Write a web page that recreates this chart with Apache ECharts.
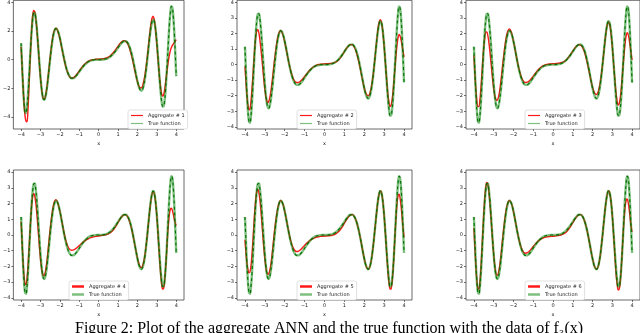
<!DOCTYPE html>
<html>
<head>
<meta charset="utf-8">
<script src="https://cdn.jsdelivr.net/npm/echarts@6/dist/echarts.min.js"></script>
<style>
  html, body { margin: 0; padding: 0; background: #fff; }
  #chart { width: 640px; height: 333px; }
</style>
</head>
<body>
<div id="chart"></div>
<script>
// sample positions on the x axis (finer near the fast oscillations)
const xs = [
  -4, -3.95, -3.9, -3.85, -3.8, -3.75, -3.7, -3.65, -3.6, -3.55,
  -3.5, -3.45, -3.4, -3.35, -3.3, -3.25, -3.2, -3.15, -3.1, -3.05,
  -3, -2.95, -2.9, -2.85, -2.8, -2.75, -2.7, -2.65, -2.6, -2.55, -2.5,
  -2.4, -2.3, -2.2, -2.1, -2, -1.9, -1.8, -1.7, -1.6, -1.5,
  -1.4, -1.3, -1.2, -1.1, -1, -0.9, -0.8, -0.7, -0.6, -0.5,
  -0.4, -0.3, -0.2, -0.1, 0, 0.1, 0.2, 0.3, 0.4, 0.5,
  0.6, 0.7, 0.8, 0.9, 1, 1.1, 1.2, 1.3, 1.4, 1.5,
  1.6, 1.7, 1.8, 1.9, 2, 2.1, 2.2, 2.3, 2.4,
  2.5, 2.55, 2.6, 2.65, 2.7, 2.75, 2.8, 2.85, 2.9, 2.95,
  3, 3.05, 3.1, 3.15, 3.2, 3.25, 3.3, 3.35, 3.4, 3.45,
  3.5, 3.55, 3.6, 3.65, 3.7, 3.75, 3.8, 3.85, 3.9, 3.95,
  4
];

const trueY = [
  1.15, -0.42, -1.86, -2.98, -3.63, -3.74, -3.34, -2.50, -1.38, -0.13,
  1.09, 2.13, 2.87, 3.26, 3.28, 2.95, 2.33, 1.50, 0.57, -0.37,
  -1.24, -1.95, -2.46, -2.75, -2.80, -2.63, -2.28, -1.79, -1.19, -0.56, 0.08,
  1.20, 1.93, 2.18, 2.00, 1.51, 0.86, 0.18, -0.42, -0.88, -1.17,
  -1.30, -1.29, -1.19, -1.03, -0.84, -0.65, -0.48, -0.33, -0.21, -0.12,
  -0.06, -0.03, -0.01, 0.00, 0, 0.00, 0.01, 0.03, 0.06, 0.12,
  0.21, 0.33, 0.48, 0.65, 0.84, 1.03, 1.19, 1.29, 1.30, 1.17,
  0.88, 0.42, -0.18, -0.86, -1.51, -2.00, -2.18, -1.93, -1.20,
  -0.08, 0.56, 1.19, 1.79, 2.28, 2.63, 2.80, 2.75, 2.46, 1.95,
  1.24, 0.37, -0.57, -1.50, -2.33, -2.95, -3.28, -3.26, -2.87, -2.13,
  -1.09, 0.13, 1.38, 2.50, 3.34, 3.74, 3.63, 2.98, 1.86, 0.42,
  -1.15
];

const agg1 = [
  0.9, -0.5, -1.9, -3.1, -3.9, -4.3, -4.35, -3.6, -2.1, -0.5,
  1.0, 2.3, 3.15, 3.45, 3.35, 2.95, 2.3, 1.45, 0.5, -0.45,
  -1.3, -2.0, -2.5, -2.75, -2.75, -2.55, -2.2, -1.7, -1.1, -0.45, 0.2,
  1.3, 2.0, 2.2, 1.95, 1.45, 0.8, 0.12, -0.47, -0.92, -1.2,
  -1.3, -1.26, -1.14, -0.97, -0.78, -0.6, -0.43, -0.29, -0.17, -0.09,
  -0.03, 0.0, 0.02, 0.03, 0.04, 0.05, 0.06, 0.08, 0.12, 0.18,
  0.28, 0.41, 0.57, 0.76, 0.95, 1.13, 1.27, 1.33, 1.28, 1.1,
  0.75, 0.25, -0.35, -0.98, -1.55, -1.92, -1.97, -1.65, -0.95,
  0.1, 0.75, 1.4, 2.0, 2.55, 2.9, 3.05, 2.9, 2.5, 1.85,
  1.05, 0.2, -0.65, -1.4, -2.0, -2.4, -2.55, -2.45, -2.1, -1.6,
  -1.05, -0.5, -0.05, 0.35, 0.65, 0.85, 1.0, 1.1, 1.2, 1.3,
  1.4
];

const agg2 = [
  -0.1, -1.1, -2.0, -2.6, -2.9, -2.85, -2.4, -1.6, -0.7, 0.3,
  1.2, 1.85, 2.2, 2.25, 2.05, 1.6, 1.05, 0.4, -0.3, -1.0,
  -1.6, -2.05, -2.35, -2.45, -2.35, -2.1, -1.75, -1.25, -0.7, -0.1, 0.45,
  1.4, 2.0, 2.2, 1.95, 1.45, 0.82, 0.18, -0.38, -0.8, -1.06,
  -1.15, -1.14, -1.05, -0.92, -0.76, -0.6, -0.44, -0.3, -0.18, -0.09,
  -0.03, 0.01, 0.03, 0.04, 0.05, 0.06, 0.07, 0.08, 0.1, 0.13,
  0.19, 0.29, 0.44, 0.63, 0.84, 1.04, 1.2, 1.29, 1.28, 1.12,
  0.8, 0.32, -0.27, -0.92, -1.5, -1.9, -2.0, -1.75, -1.1,
  -0.05, 0.6, 1.25, 1.85, 2.4, 2.75, 2.9, 2.8, 2.45, 1.9,
  1.15, 0.3, -0.55, -1.35, -2.05, -2.5, -2.7, -2.6, -2.25, -1.65,
  -0.9, -0.1, 0.65, 1.3, 1.75, 1.95, 1.85, 1.6, 1.25, 0.85,
  0.5
];

const agg3 = [
  0.6, -0.6, -1.6, -2.35, -2.7, -2.7, -2.3, -1.55, -0.65, 0.3,
  1.15, 1.75, 2.1, 2.1, 1.9, 1.5, 0.95, 0.3, -0.35, -1.0,
  -1.55, -1.95, -2.2, -2.3, -2.25, -2.05, -1.7, -1.2, -0.65, -0.05, 0.5,
  1.5, 2.1, 2.3, 2.05, 1.5, 0.85, 0.2, -0.37, -0.8, -1.06,
  -1.15, -1.13, -1.04, -0.9, -0.74, -0.57, -0.41, -0.27, -0.15, -0.07,
  -0.01, 0.02, 0.04, 0.05, 0.06, 0.07, 0.08, 0.1, 0.12, 0.16,
  0.23, 0.34, 0.5, 0.68, 0.87, 1.05, 1.2, 1.28, 1.26, 1.1,
  0.78, 0.3, -0.28, -0.9, -1.45, -1.82, -1.92, -1.68, -1.05,
  -0.05, 0.55, 1.15, 1.75, 2.25, 2.6, 2.75, 2.65, 2.35, 1.8,
  1.1, 0.3, -0.5, -1.3, -1.95, -2.4, -2.6, -2.5, -2.15, -1.55,
  -0.8, 0.0, 0.75, 1.4, 1.85, 2.05, 1.95, 1.65, 1.2, 0.75,
  0.3
];

const agg4 = [
  0.85, -0.5, -1.7, -2.6, -3.1, -3.15, -2.8, -2.05, -1.05, 0.05,
  1.1, 1.95, 2.5, 2.65, 2.5, 2.1, 1.5, 0.75, -0.05, -0.85,
  -1.55, -2.1, -2.45, -2.6, -2.55, -2.35, -1.95, -1.45, -0.85, -0.2, 0.4,
  1.4, 2.05, 2.25, 2.0, 1.5, 0.87, 0.22, -0.33, -0.7, -0.9,
  -0.97, -0.95, -0.88, -0.78, -0.67, -0.56, -0.45, -0.36, -0.28, -0.22,
  -0.17, -0.13, -0.1, -0.08, -0.06, -0.04, -0.02, 0.0, 0.03, 0.07,
  0.14, 0.25, 0.4, 0.59, 0.8, 1.01, 1.18, 1.28, 1.28, 1.14,
  0.84, 0.38, -0.2, -0.85, -1.47, -1.92, -2.08, -1.82, -1.13,
  -0.08, 0.55, 1.15, 1.75, 2.25, 2.6, 2.75, 2.7, 2.4, 1.9,
  1.15, 0.25, -0.75, -1.7, -2.55, -3.15, -3.45, -3.4, -2.95, -2.15,
  -1.15, -0.1, 0.75, 1.35, 1.65, 1.7, 1.55, 1.3, 1.0, 0.75,
  0.6
];

const agg5 = [
  -0.3, -1.15, -1.8, -2.2, -2.4, -2.35, -2.0, -1.3, -0.35, 0.7,
  1.65, 2.35, 2.8, 2.9, 2.7, 2.25, 1.6, 0.8, -0.05, -0.85,
  -1.5, -2.05, -2.4, -2.5, -2.45, -2.25, -1.9, -1.4, -0.8, -0.2, 0.4,
  1.35, 1.98, 2.2, 2.0, 1.5, 0.87, 0.2, -0.36, -0.75, -0.97,
  -1.05, -1.02, -0.93, -0.8, -0.66, -0.53, -0.42, -0.32, -0.24, -0.18,
  -0.14, -0.11, -0.09, -0.08, -0.07, -0.06, -0.05, -0.04, -0.01, 0.03,
  0.1, 0.2, 0.35, 0.53, 0.75, 0.96, 1.15, 1.27, 1.3, 1.17,
  0.88, 0.42, -0.18, -0.86, -1.51, -2.0, -2.18, -1.93, -1.2,
  -0.08, 0.56, 1.19, 1.79, 2.28, 2.63, 2.8, 2.75, 2.46, 1.95,
  1.22, 0.32, -0.65, -1.62, -2.5, -3.12, -3.45, -3.42, -3.0, -2.2,
  -1.1, 0.1, 1.2, 2.05, 2.5, 2.6, 2.35, 1.85, 1.15, 0.45,
  -0.15
];

const agg6 = [
  0.45, -0.8, -2.0, -2.9, -3.4, -3.45, -3.05, -2.2, -1.05, 0.2,
  1.4, 2.4, 3.05, 3.35, 3.25, 2.85, 2.2, 1.35, 0.45, -0.45,
  -1.25, -1.9, -2.35, -2.55, -2.55, -2.35, -2.0, -1.5, -0.9, -0.25, 0.35,
  1.35, 2.0, 2.2, 2.0, 1.5, 0.86, 0.18, -0.4, -0.83, -1.08,
  -1.16, -1.13, -1.03, -0.89, -0.73, -0.58, -0.45, -0.34, -0.25, -0.19,
  -0.15, -0.12, -0.1, -0.09, -0.08, -0.07, -0.05, -0.03, 0.0, 0.05,
  0.12, 0.23, 0.38, 0.57, 0.78, 0.99, 1.17, 1.28, 1.3, 1.17,
  0.88, 0.42, -0.18, -0.86, -1.51, -2.0, -2.18, -1.93, -1.2,
  -0.08, 0.56, 1.19, 1.79, 2.28, 2.63, 2.8, 2.75, 2.46, 1.95,
  1.2, 0.3, -0.7, -1.7, -2.6, -3.2, -3.5, -3.45, -3.0, -2.15,
  -1.05, 0.1, 1.1, 1.8, 2.2, 2.3, 2.1, 1.65, 1.1, 0.55,
  0.2
];

const aggNames = ['Aggregate # 1', 'Aggregate # 2', 'Aggregate # 3',
                  'Aggregate # 4', 'Aggregate # 5', 'Aggregate # 6'];
const xTicks = [-4, -3, -2, -1, 0, 1, 2, 3, 4];
const yTicksWide = [-4, -2, 0, 2, 4];
const yTicks = [-4, -3, -2, -1, 0, 1, 2, 3, 4];
const caption = 'Figure 2: Plot of the aggregate ANN and the true function with the data of f\u2083(x)';

const aggs = [agg1, agg2, agg3, agg4, agg5, agg6];
const FONT = 'DejaVu Sans';

// panel layout: grid box, y limits, legend spot
const panels = [
  { left: 9,   top: 0,   w: 175, h: 129, ymin: -4.85, ymax: 4.15, yt: yTicksWide, lg: [128, 110], thick: false },
  { left: 237, top: 0,   w: 175, h: 129, ymin: -4.14, ymax: 4.14, yt: yTicks, lg: [297, 110], thick: false },
  { left: 466, top: 0,   w: 174, h: 129, ymin: -4.14, ymax: 4.14, yt: yTicks, lg: [525, 110], thick: false },
  { left: 9,   top: 170, w: 175, h: 130, ymin: -4.14, ymax: 4.14, yt: yTicks, lg: [69, 281], thick: true },
  { left: 237, top: 170, w: 175, h: 130, ymin: -4.14, ymax: 4.14, yt: yTicks, lg: [297, 281], thick: true },
  { left: 466, top: 170, w: 174, h: 130, ymin: -4.14, ymax: 4.14, yt: yTicks, lg: [525, 281], thick: true }
];

const minus = v => String(v).replace('-', '\u2212');
const pts = ys => xs.map((x, i) => [x, ys[i]]);

const tickStyle = { color: '#333', width: 0.7 };
const labelStyle = { fontSize: 5, fontFamily: FONT, color: '#222', formatter: minus };

const option = {
  animation: false,
  backgroundColor: '#fff',
  grid: panels.map(p => ({
    left: p.left, top: p.top, width: p.w, height: p.h,
    show: true, borderColor: '#444', borderWidth: 0.8, backgroundColor: 'transparent'
  })),
  xAxis: panels.map((p, i) => ({
    type: 'value', gridIndex: i, min: -4.4, max: 4.4, position: 'bottom',
    axisLine: { show: false, onZero: false },
    axisTick: { show: true, customValues: xTicks, length: 2, lineStyle: tickStyle },
    axisLabel: Object.assign({ customValues: xTicks, margin: 3 }, labelStyle),
    splitLine: { show: false },
    name: 'x', nameLocation: 'middle', nameGap: 12,
    nameTextStyle: { fontSize: 5, fontFamily: FONT, color: '#222' }
  })),
  yAxis: panels.map((p, i) => ({
    type: 'value', gridIndex: i, min: p.ymin, max: p.ymax, position: 'left',
    axisLine: { show: false, onZero: false },
    axisTick: { show: true, customValues: p.yt, length: 2, lineStyle: tickStyle },
    axisLabel: Object.assign({ customValues: p.yt, margin: 3 }, labelStyle),
    splitLine: { show: false }
  })),
  legend: panels.map((p, i) => ({
    left: p.lg[0], top: p.lg[1], orient: 'vertical',
    data: [{ name: aggNames[i], icon: 'rect' }, { name: 'True function', icon: 'rect' }],
    itemWidth: 12, itemHeight: p.thick ? 2.5 : 1.2, itemGap: 3, itemTextGap: 4,
    padding: [3, 3],
    backgroundColor: '#fff', borderColor: '#ccc', borderWidth: 0.6, borderRadius: 2,
    selectedMode: false,
    textStyle: { fontSize: 5, fontFamily: FONT, color: '#222' }
  })),
  series: [],
  graphic: [{
    type: 'text', left: 75, top: 321,
    style: { text: caption, font: '16px "Liberation Serif", "DejaVu Serif", serif', fill: '#000' }
  }]
};

panels.forEach((p, i) => {
  option.series.push({
    type: 'line', name: aggNames[i], xAxisIndex: i, yAxisIndex: i,
    data: pts(aggs[i]), smooth: 0.4, symbol: 'none', silent: true,
    lineStyle: { color: '#ff1a1a', width: 1.4 }, itemStyle: { color: '#ff1a1a' }
  });
  option.series.push({
    type: 'line', name: 'True function', xAxisIndex: i, yAxisIndex: i,
    data: pts(trueY), smooth: 0.4, symbol: 'none', silent: true,
    lineStyle: { color: 'rgba(0,128,0,0.5)', width: 2.4 }, itemStyle: { color: 'rgba(0,128,0,0.5)' }
  });
  option.series.push({
    type: 'line', name: 'true-dashes', xAxisIndex: i, yAxisIndex: i,
    data: pts(trueY), smooth: 0.4, symbol: 'none', silent: true,
    lineStyle: { color: '#007000', width: 1.1, type: [3, 3] }, itemStyle: { color: '#007000' }
  });
});

const chart = echarts.init(document.getElementById('chart'));
chart.setOption(option);
</script>
</body>
</html>
